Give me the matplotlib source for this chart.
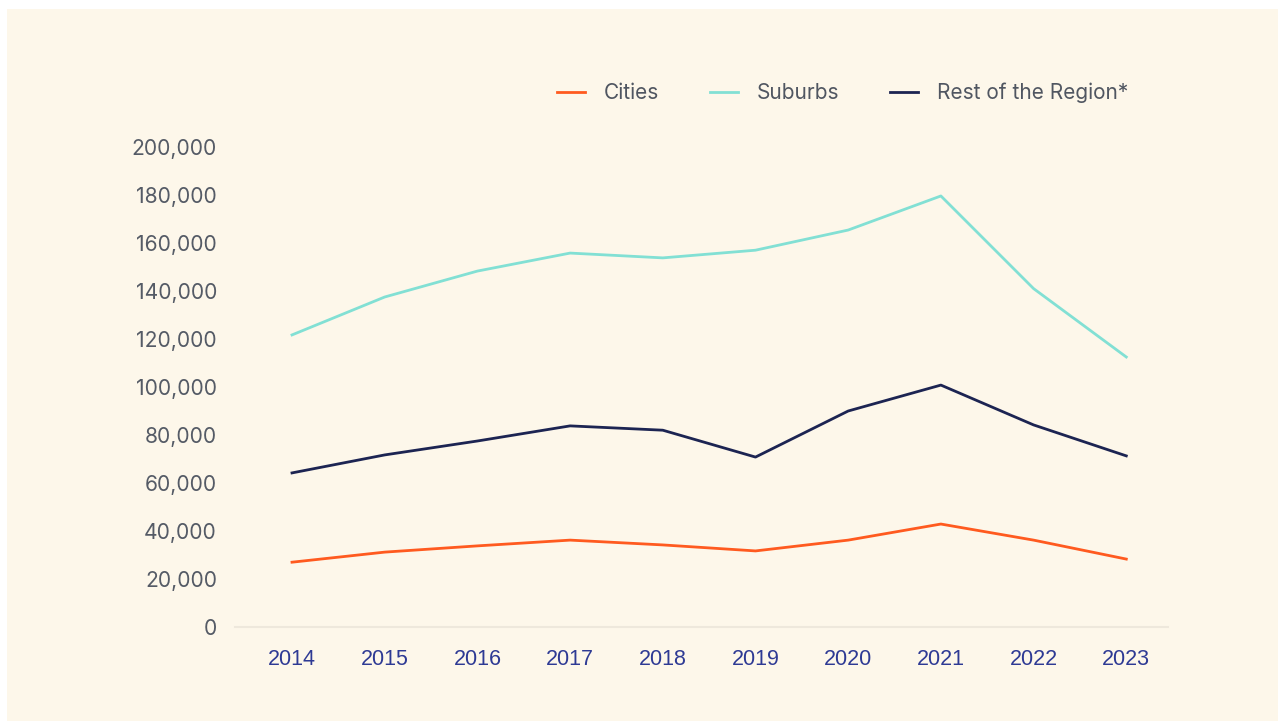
import matplotlib
matplotlib.use("Agg")
import matplotlib.pyplot as plt
from matplotlib.patches import Rectangle
from matplotlib.ticker import FuncFormatter

years = ["2014", "2015", "2016", "2017", "2018", "2019", "2020", "2021", "2022", "2023"]
cities = [27000, 31200, 33800, 36200, 34200, 31700, 36200, 42900, 36200, 28300]
suburbs = [121700, 137500, 148300, 155800, 153800, 157000, 165400, 179600, 141000, 112500]
rest = [64200, 71700, 77500, 83800, 82000, 70800, 90000, 100800, 84200, 71300]
yticks = [0, 20000, 40000, 60000, 80000, 100000, 120000, 140000, 160000, 180000, 200000]

W, H = 1278, 721
cream = "#FDF7EA"
fig = plt.figure(figsize=(W / 100, H / 100), dpi=100)
fig.patch.set_facecolor("white")
fig.patches.append(Rectangle((7 / W, 0), 1 - 7 / W, 1 - 9 / H, transform=fig.transFigure,
                             facecolor=cream, edgecolor="none", zorder=-10))

x0, x1 = 235, 1168
y0, y1 = 627, 147
ax = fig.add_axes([x0 / W, (H - y0) / H, (x1 - x0) / W, (y0 - y1) / H])
ax.set_facecolor(cream)
ax.patch.set_alpha(0)

xs = list(range(len(years)))
lw = 2.0
l1, = ax.plot(xs, cities, color="#FF5A1F", lw=lw, label="Cities", clip_on=False)
l2, = ax.plot(xs, suburbs, color="#82E0D4", lw=lw, label="Suburbs", clip_on=False)
l3, = ax.plot(xs, rest, color="#1C2452", lw=lw, label="Rest of the Region*", clip_on=False)

ax.set_xlim(-0.615, 9.45)
ax.set_ylim(0, 200000)
ax.set_xticks(xs)
ax.set_xticklabels(years, fontfamily="Liberation Sans", fontsize=15.5, color="#2E3A94")
ax.set_yticks(yticks)
ax.yaxis.set_major_formatter(FuncFormatter(lambda v, p: f"{int(v):,}"))
for t in ax.get_yticklabels():
    t.set_fontfamily("Inter")
    t.set_fontsize(15.2)
    t.set_color("#555B66")
ax.tick_params(axis="both", length=0)
ax.tick_params(axis="x", pad=16)
ax.tick_params(axis="y", pad=13)
for s in ["top", "right", "left"]:
    ax.spines[s].set_visible(False)
ax.spines["bottom"].set_color("#EEE8DC")
ax.spines["bottom"].set_linewidth(1.5)

leg = fig.legend(handles=[l1, l2, l3], ncol=3, loc="center",
                 bbox_to_anchor=(842.5 / W, 1 - 93 / H), frameon=False,
                 prop={"family": "Inter", "size": 15}, handlelength=1.35,
                 handletextpad=0.9, columnspacing=2.45)
for t in leg.get_texts():
    t.set_color("#505661")

fig.savefig("out.png", dpi=100, facecolor="white")
